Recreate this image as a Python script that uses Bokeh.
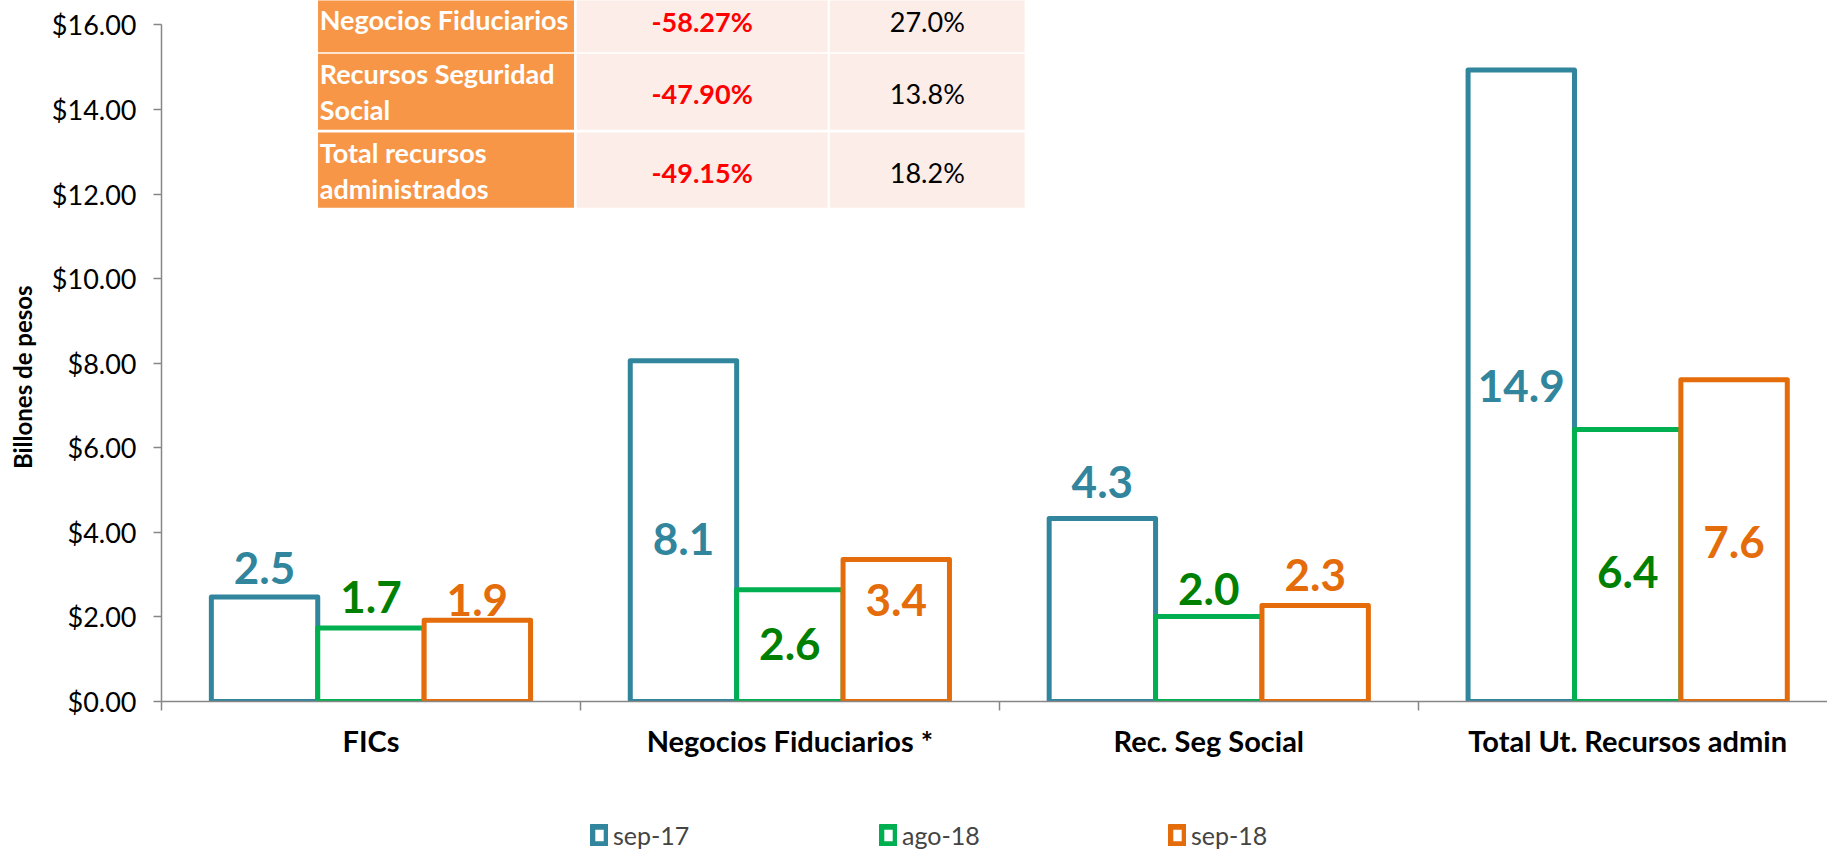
import numpy as np
from bokeh.plotting import figure
from bokeh.layouts import column
from bokeh.models import (ColumnDataSource, FixedTicker, NumeralTickFormatter, LinearAxis,
                          Legend, LegendItem, Range1d)
from bokeh.core.properties import value
from bokeh.embed import file_html
from bokeh.resources import INLINE

# ---------------- data ----------------
categories = ["FICs", "Negocios Fiduciarios *", "Rec. Seg Social", "Total Ut. Recursos admin"]
series_names = ["sep-17", "ago-18", "sep-18"]
sep17 = [2.47, 8.06, 4.33, 14.93]
ago18 = [1.74, 2.64, 2.01, 6.43]
sep18 = [1.92, 3.36, 2.27, 7.61]
y_ticks = [0, 2, 4, 6, 8, 10, 12, 14, 16]

table_labels = [["Negocios Fiduciarios"], ["Recursos Seguridad", "Social"],
                ["Total recursos", "administrados"]]
table_var = ["-58.27%", "-47.90%", "-49.15%"]
table_share = ["27.0%", "13.8%", "18.2%"]

# ---------------- layout / style ----------------
FONT = "Lato"
series_values = [sep17, ago18, sep18]
bar_colors = ["#31859C", "#00B050", "#E46C0A"]
label_colors = ["#31859C", "#008000", "#E46C0A"]
BAR_W = 0.254
offsets = [-BAR_W, 0.0, BAR_W]
# vertical position (data units) of the value labels
label_pos = [[3.15, 3.85, 5.20, 7.45],
             [2.47, 1.37, 2.66, 3.07],
             [2.39, 2.39, 2.99, 3.76]]

# table geometry (data units)
tab_cols = [(0.3737, 0.9847), (0.9912, 1.5900), (1.5957, 2.0604)]
tab_rows = [(15.354, 17.11), (13.519, 15.316), (11.674, 13.455)]
first_row_text_y = 16.12
LINE_PITCH = 0.85

MAIN_H = 790
p = figure(width=1827, height=MAIN_H, x_range=Range1d(0, 3.977), y_range=Range1d(0, 16.576),
           output_backend="svg", toolbar_location=None,
           x_axis_type=None, y_axis_type=None,
           min_border_left=161, min_border_right=0, min_border_top=0,
           min_border_bottom=MAIN_H - 701)
p.outline_line_color = None
p.background_fill_color = "white"
p.border_fill_color = "white"

# ---------------- bars ----------------
for vals, off, col in zip(series_values, offsets, bar_colors):
    src = ColumnDataSource(dict(x=np.arange(len(categories)) + 0.5 + off, top=vals))
    p.vbar(x="x", top="top", bottom=0, width=BAR_W, source=src,
           fill_color="white", line_color=col, line_width=5, line_join="round")

for vals, off, col, ly in zip(series_values, offsets, label_colors, label_pos):
    src = ColumnDataSource(dict(x=np.arange(len(categories)) + 0.5 + off, y=ly,
                                t=[f"{v:.1f}" for v in vals]))
    p.text(x="x", y="y", text="t", source=src, text_align="center", text_baseline="middle",
           text_font=value(FONT), text_font_style="bold", text_font_size="44px", text_color=col)

# ---------------- table ----------------
for i in range(len(table_labels)):
    b, t = tab_rows[i]
    p.quad(left=[tab_cols[0][0]], right=[tab_cols[0][1]], bottom=[b], top=[t],
           fill_color="#F79646", line_color=None)
    p.quad(left=[tab_cols[1][0], tab_cols[2][0]], right=[tab_cols[1][1], tab_cols[2][1]],
           bottom=[b, b], top=[t, t], fill_color="#FCEDE8", line_color=None)
    center = (b + t) / 2 if i > 0 else first_row_text_y
    lines = table_labels[i]
    n = len(lines)
    ys = [center + ((n - 1) / 2 - k) * LINE_PITCH for k in range(n)]
    p.text(x=[tab_cols[0][0] + 0.004] * n, y=ys, text=lines, text_align="left",
           text_baseline="middle", text_font=value(FONT), text_font_style="bold",
           text_font_size="27px", text_color="white")
    p.text(x=[(tab_cols[1][0] + tab_cols[1][1]) / 2], y=[center - 0.05], text=[table_var[i]],
           text_align="center", text_baseline="middle", text_font=value(FONT),
           text_font_style="bold", text_font_size="27px", text_color="#FF0000")
    p.text(x=[(tab_cols[2][0] + tab_cols[2][1]) / 2], y=[center - 0.05], text=[table_share[i]],
           text_align="center", text_baseline="middle", text_font=value(FONT),
           text_font_size="27px", text_color="black")

# ---------------- axes ----------------
AX = "#868686"
yaxis = LinearAxis(ticker=FixedTicker(ticks=y_ticks), formatter=NumeralTickFormatter(format="$0.00"),
                   bounds=(0, 16), axis_label="Billones de pesos" + "\u00a0" * 9,
                   axis_line_color=AX, axis_line_width=1.5,
                   major_tick_line_color=AX, major_tick_line_width=1.5,
                   major_tick_in=0, major_tick_out=8, minor_tick_out=0, minor_tick_in=0,
                   major_label_standoff=17,
                   major_label_text_font=FONT, major_label_text_font_size="27px",
                   major_label_text_color="black",
                   axis_label_standoff=12, axis_label_text_font=FONT,
                   axis_label_text_font_style="bold", axis_label_text_font_size="24px",
                   axis_label_text_color="black")
p.add_layout(yaxis, "left")

xaxis = LinearAxis(ticker=FixedTicker(ticks=[i + 0.5 for i in range(len(categories))],
                                      minor_ticks=list(range(len(categories) + 1))),
                   major_label_overrides={i + 0.5: c for i, c in enumerate(categories)},
                   axis_line_color=AX, axis_line_width=1.5,
                   major_tick_in=0, major_tick_out=0,
                   minor_tick_line_color=AX, minor_tick_line_width=1.5,
                   minor_tick_in=0, minor_tick_out=9,
                   major_label_standoff=12,
                   major_label_text_font=FONT, major_label_text_font_style="bold",
                   major_label_text_font_size="29px", major_label_text_color="black")
p.add_layout(xaxis, "below")

# ---------------- legend (separate strip below the chart) ----------------
LEG_H = 852 - MAIN_H
pl = figure(width=1827, height=LEG_H, x_range=Range1d(0, 1), y_range=Range1d(0, 1),
            output_backend="svg", toolbar_location=None, x_axis_type=None, y_axis_type=None,
            min_border=0, min_border_left=161, min_border_right=0, min_border_top=0,
            min_border_bottom=0)
pl.outline_line_color = None
leg_renderers = []
for col in bar_colors:
    # swatch renderers for the legend (covered by the white background panel below)
    leg_renderers.append(pl.vbar(x=[0.5], top=[0.5], bottom=0, width=0.05, fill_color="white",
                                 line_color=col, line_width=6, line_join="round"))
pl.quad(left=[-1], right=[2], bottom=[-1], top=[2], fill_color="white", line_color=None)
legend = Legend(items=[LegendItem(label=n, renderers=[r]) for n, r in zip(series_names, leg_renderers)],
                orientation="horizontal", location=(429, 2),
                glyph_width=18, glyph_height=22, label_standoff=5, label_width=200, spacing=66,
                padding=0, margin=0, border_line_color=None, background_fill_alpha=0,
                label_text_font=FONT, label_text_font_size="25px", label_height=22)
pl.add_layout(legend)

layout = column(p, pl, spacing=0)
open("out.html", "w").write(file_html(layout, INLINE))
